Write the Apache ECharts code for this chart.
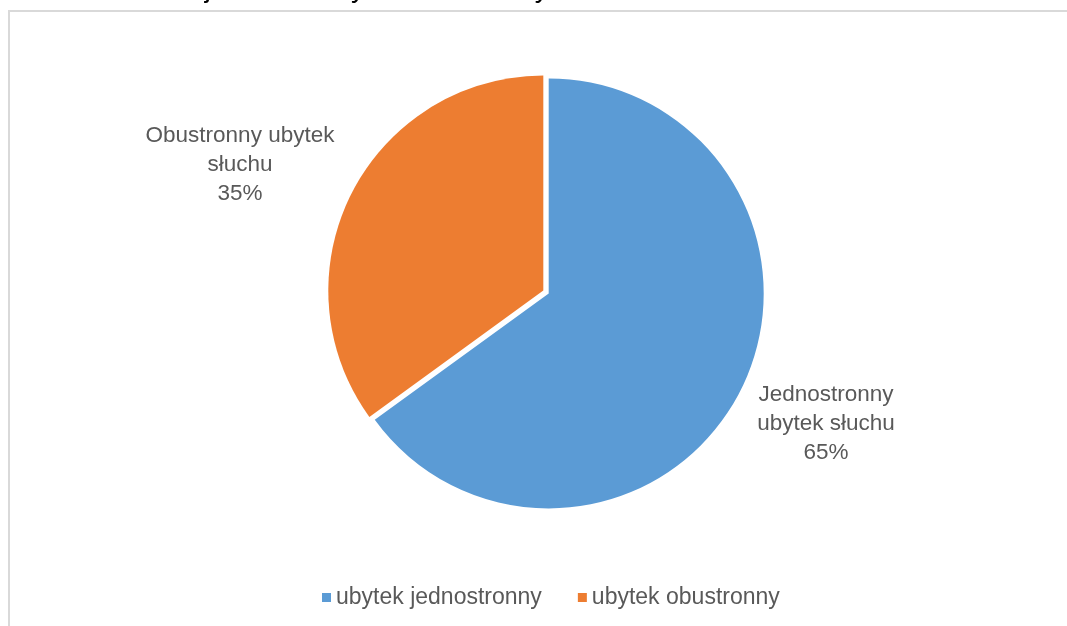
<!DOCTYPE html>
<html>
<head>
<meta charset="utf-8">
<script src="https://cdn.jsdelivr.net/npm/echarts@6/dist/echarts.min.js"></script>
<style>
  html, body { margin: 0; padding: 0; background: #fff; }
  #main { width: 1067px; height: 626px; }
</style>
</head>
<body>
<div id="main"></div>
<script>
// kategorie i wartości (%)
var categories = ['ubytek jednostronny', 'ubytek obustronny'];
var values = [65, 35];
var labelTexts = ['Jednostronny\nubytek słuchu', 'Obustronny ubytek\nsłuchu'];
var colors = ['#5B9BD5', '#ED7D31'];
var headText = 'Udział dzieci z jednostronnym i obustronnym';

var chart = echarts.init(document.getElementById('main'));

// miejsca etykiet jak w oryginale (best fit z Excela)
var labelSpots = [[826, 424], [240, 165]];
// lekko "wysunięte" wycinki: każdy rysowany osobno z przesuniętym środkiem
var centers = [[548.7, 293.4], [543.3, 290.6]];

var fontFam = '"Liberation Sans", Arial, sans-serif';

function sliceSeries(k) {
  return {
    type: 'pie',
    center: centers[k],
    radius: 215,
    startAngle: 90,
    clockwise: true,
    silent: true,
    label: {
      color: '#595959',
      fontSize: 22.5,
      lineHeight: 29,
      align: 'center',
      fontFamily: fontFam,
      formatter: function (p) {
        return labelTexts[p.dataIndex] + '\n' + p.value + '%';
      }
    },
    labelLine: {show: false},
    labelLayout: function (p) {
      var s = labelSpots[p.dataIndex];
      return {x: s[0], y: s[1], align: 'center', verticalAlign: 'middle'};
    },
    data: categories.map(function (name, i) {
      return {
        name: name,
        value: values[i],
        itemStyle: {color: i === k ? colors[i] : 'rgba(0,0,0,0)'},
        label: {show: i === k}
      };
    })
  };
}

var option = {
  animation: false,
  graphic: [
    {
      type: 'text',
      left: 18,
      top: -25,
      style: {
        text: headText,
        font: '28px ' + fontFam,
        fill: '#000'
      },
      silent: true
    },
    {
      type: 'rect',
      shape: {x: 9, y: 11, width: 1200, height: 800},
      style: {fill: 'none', stroke: '#d9d9d9', lineWidth: 2},
      silent: true
    }
  ],
  legend: {
    left: 317,
    top: 581,
    icon: 'rect',
    itemWidth: 9,
    itemHeight: 9,
    itemGap: 36,
    selectedMode: false,
    textStyle: {
      color: '#595959',
      fontSize: 23,
      fontFamily: fontFam
    },
    data: categories.map(function (name, i) {
      return {name: name, itemStyle: {color: colors[i]}};
    })
  },
  series: [sliceSeries(0), sliceSeries(1)]
};

chart.setOption(option);
</script>
</body>
</html>
